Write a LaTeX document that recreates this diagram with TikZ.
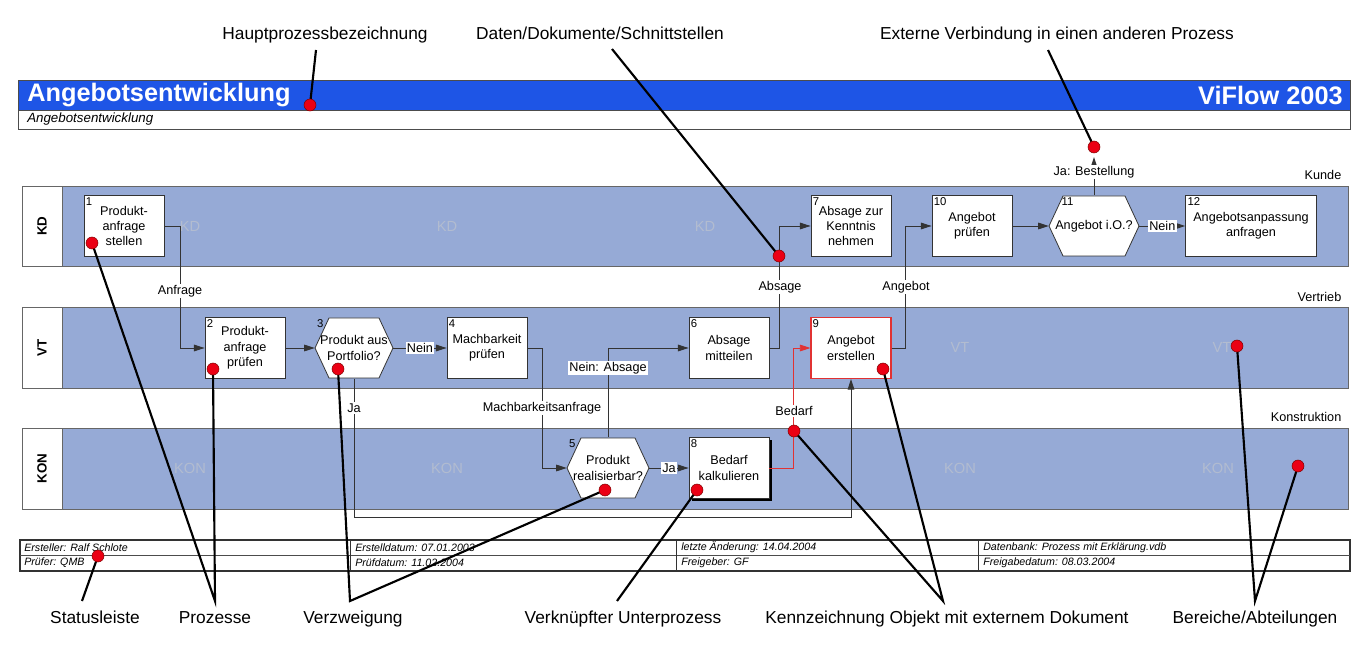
\documentclass[tikz,border=0pt]{standalone}
\usepackage{fontspec}
\setmainfont{Liberation Sans}
\usetikzlibrary{arrows.meta,shadows}
\definecolor{hdrblue}{RGB}{30,85,230}
\definecolor{lanebg}{RGB}{150,170,214}
\definecolor{lanetxt}{RGB}{178,188,208}
\definecolor{dotred}{RGB}{235,0,20}
\definecolor{boxred}{RGB}{225,50,50}
\newcommand{\fsz}[2]{\fontsize{#1}{#2}\selectfont}
\newcommand{\hexoutline}[3]{\draw[hexline] (#1-#3,#2) -- (#1-#3+14,#2-30) -- (#1+#3-14,#2-30) -- (#1+#3,#2) -- (#1+#3-14,#2+30) -- (#1-#3+14,#2+30) -- cycle;}
\begin{document}
\begin{tikzpicture}[x=0.75pt,y=-0.75pt,
  lanebox/.style={draw=black!60, fill=lanebg, line width=0.5pt},
  lanelab/.style={draw=black!60, fill=white, line width=0.5pt},
  proc/.style={draw=black!80, fill=white, line width=0.6pt, minimum width=60pt, minimum height=45.75pt, inner sep=1pt, align=center, font=\fsz{9.5}{11.5}},
  hexn/.style={draw=none, minimum height=45.75pt, inner sep=0pt, align=center, font=\fsz{9.5}{11.5}},
  hexline/.style={draw=black!80, fill=white, line width=0.6pt},
  num/.style={anchor=north west, inner sep=1.5pt, font=\fsz{8.5}{9}},
  cn/.style={draw=black!80, line width=0.7pt},
  arr/.style={cn, -{Triangle[length=8pt,width=5pt]}},
  clab/.style={fill=white, inner sep=1pt, font=\fsz{9.5}{11}},
  ghost/.style={text=lanetxt, font=\fsz{11}{13}},
  lname/.style={anchor=east, font=\fsz{9.5}{11}},
  ann/.style={draw=black, line width=1.6pt},
  dot/.style={circle, fill=dotred, draw=red!50!black, line width=0.4pt, minimum size=9pt, inner sep=0pt},
  annlab/.style={anchor=base, font=\fsz{13}{15}},
  stat/.style={anchor=west, font=\fsz{8}{9}\itshape, inner sep=0pt},
]
\useasboundingbox (0,0) rectangle (1368,652);

% header
\fill[hdrblue] (18,80) rectangle (1350,110);
\draw[black!70, line width=0.6pt] (18,80) rectangle (1350,129);
\draw[black!70, line width=0.6pt] (18,110) -- (1350,110);
\node[anchor=west, text=white, font=\fsz{19}{22}\bfseries, inner sep=0pt] (title) at (27,95) {Angebotsentwicklung};
\node[anchor=east, text=white, font=\fsz{19}{22}\bfseries, inner sep=0pt] (vf) at (1343,95) {ViFlow 2003};
\node[anchor=west, font=\fsz{10}{12}\itshape, inner sep=0pt] (sub) at (27,119.5) {Angebotsentwicklung};

% lanes
\draw[lanebox] (62,186) rectangle (1348,266);
\draw[lanelab] (22,186) rectangle (62,266);
\draw[lanebox] (62,307) rectangle (1348,388);
\draw[lanelab] (22,307) rectangle (62,388);
\draw[lanebox] (62,428) rectangle (1348,509);
\draw[lanelab] (22,428) rectangle (62,509);
\node[rotate=90, font=\fsz{10}{12}\bfseries] (lkd) at (42,226) {KD};
\node[rotate=90, font=\fsz{10}{12}\bfseries] (lvt) at (42,347.5) {VT};
\node[rotate=90, font=\fsz{10}{12}\bfseries] (lkon) at (42,468.5) {KON};
\node[lname] (kunde) at (1346,175) {Kunde};
\node[lname] (vertrieb) at (1346,297) {Vertrieb};
\node[lname] (konstr) at (1346,417) {Konstruktion};

\node[ghost] (g1) at (190,226) {KD};
\node[ghost] (g2) at (447,226) {KD};
\node[ghost] (g3) at (705,226) {KD};
\node[ghost] (g4) at (960,347) {VT};
\node[ghost] (g5) at (1222,347) {VT};
\node[ghost] (g6) at (190,468) {KON};
\node[ghost] (g7) at (447,468) {KON};
\node[ghost] (g8) at (960,468) {KON};
\node[ghost] (g9) at (1218,468) {KON};

% process boxes
\node[proc] (n1) at (124,226) {Produkt-\\anfrage\\stellen};
\node[proc] (n2) at (245,348) {Produkt-\\anfrage\\prüfen};
\node[proc] (n4) at (487,348) {Machbarkeit\\prüfen};
\node[proc] (n6) at (729,348) {Absage\\mitteilen};
\node[proc, draw=boxred, line width=0.8pt] (n9) at (851,348) {Angebot\\erstellen};
\node[proc] (n7) at (851,226) {Absage zur\\Kenntnis\\nehmen};
\node[proc] (n10) at (972,226) {Angebot\\prüfen};
\node[proc, minimum width=98pt] (n12) at (1251,226) {Angebotsanpassung\\anfragen};
\node[proc, drop shadow={shadow xshift=2pt, shadow yshift=-2pt, fill=black, opacity=1}] (n8) at (729,468) {Bedarf\\kalkulieren};

% decision hexagons
\hexoutline{354}{348}{39}
\node[hexn, minimum width=58.5pt] (n3) at (354,348) {Produkt aus\\Portfolio?};
\hexoutline{608}{468}{41}
\node[hexn, minimum width=61.5pt] (n5) at (608,468) {Produkt\\realisierbar?};
\hexoutline{1094}{226}{45}
\node[hexn, minimum width=67.5pt] (n11) at (1094,226) {Angebot i.O.?};

% numbers
\node[num] (k1) at (n1.north west) {1};
\node[num] (k2) at (n2.north west) {2};
\node[num] (k3) at (n3.north west) {3};
\node[num] (k4) at (n4.north west) {4};
\node[num] (k5) at (n5.north west) {5};
\node[num] (k6) at (n6.north west) {6};
\node[num] (k7) at (n7.north west) {7};
\node[num] (k8) at (n8.north west) {8};
\node[num] (k9) at (n9.north west) {9};
\node[num] (k10) at (n10.north west) {10};
\node[num] (k11) at ([xshift=8pt]n11.north west) {11};
\node[num] (k12) at (n12.north west) {12};

% connectors
\coordinate (ext) at (1094,157);
\draw[arr] (n1.east) -- ++(16,0) |- (n2.west);
\draw[arr] (n2.east) -- (n3.west);
\draw[arr] (n3.east) -- node[clab] (lnein1) {Nein} (n4.west);
\draw[arr] (n3.south) -- ++(0,139) -| (n9.south);
\draw[arr] (n4.east) -- ++(15,0) |- (n5.west);
\draw[arr] (n5.north) |- (n6.west);
\draw[arr] (n5.east) -- node[clab] (lja2) {Ja} (n8.west);
\draw[arr] (n6.east) -- ++(10,0) |- (n7.west);
\draw[arr, draw=boxred] (n8.east) -- ++(24,0) |- (n9.west);
\draw[arr] (n9.east) -- ++(14,0) |- (n10.west);
\draw[arr] (n10.east) -- (n11.west);
\draw[arr] (n11.east) -- node[clab] (lnein2) {Nein} (n12.west);
\draw[arr] (n11.north) -- (ext);

\node[clab] (lanf) at (180,291) {Anfrage};
\node[clab] (lja1) at (354,408) {Ja};
\node[clab] (lmach) at (542,408) {Machbarkeitsanfrage};
\node[clab] (lnabs) at (608,368) {Nein: Absage};
\node[clab] (labs) at (780,287) {Absage};
\node[clab] (lbed) at (794,411) {Bedarf};
\node[clab] (lang) at (906,287) {Angebot};
\node[clab] (lbest) at (1094,172) {Ja: Bestellung};

% status bar
\draw[black!80, line width=0.9pt] (20,540) rectangle (1350,571);
\draw[black!70, line width=0.5pt] (20,555.5) -- (1350,555.5);
\draw[black!80, line width=0.6pt] (350,540) -- (350,571) (676,540) -- (676,571) (978,540) -- (978,571);
\node[stat] (s1) at (24,547.5) {Ersteller: Ralf Schlote};
\node[stat] (s2) at (355,547.5) {Erstelldatum: 07.01.2003};
\node[stat] (s3) at (681,547.5) {letzte Änderung: 14.04.2004};
\node[stat] (s4) at (983,547.5) {Datenbank: Prozess mit Erklärung.vdb};
\node[stat] (s5) at (24,563) {Prüfer: QMB};
\node[stat] (s6) at (355,563) {Prüfdatum: 11.02.2004};
\node[stat] (s7) at (681,563) {Freigeber: GF};
\node[stat] (s8) at (983,563) {Freigabedatum: 08.03.2004};

% annotation labels
\node[annlab] (tH) at (325,40) {Hauptprozessbezeichnung};
\node[annlab] (tD) at (600,40) {Daten/Dokumente/Schnittstellen};
\node[annlab] (tE) at (1057,40) {Externe Verbindung in einen anderen Prozess};
\node[annlab] (tS) at (95,623) {Statusleiste};
\node[annlab] (tP) at (215,623) {Prozesse};
\node[annlab] (tV) at (353,623) {Verzweigung};
\node[annlab] (tU) at (623,623) {Verknüpfter Unterprozess};
\node[annlab] (tK) at (947,623) {Kennzeichnung Objekt mit externem Dokument};
\node[annlab] (tB) at (1255,623) {Bereiche/Abteilungen};

% annotation endpoints
\coordinate (aH) at (316,50);
\coordinate (aD) at (612,49);
\coordinate (aE) at (1048,50);
\coordinate (aS) at (82,601);
\coordinate (aP) at (215,601);
\coordinate (aV) at (350,601);
\coordinate (aU) at (617,601);
\coordinate (aK) at (943,601);
\coordinate (aB) at (1255,601);
\coordinate (pH) at (310,105);
\coordinate (pD) at (779,256);
\coordinate (pE) at (1094,147);
\coordinate (pP1) at (92,243);
\coordinate (pP2) at (213,369);
\coordinate (pV1) at (338,369);
\coordinate (pV2) at (605,490);
\coordinate (pS) at (98,556);
\coordinate (pU) at (697,490);
\coordinate (pK1) at (794,431);
\coordinate (pK2) at (883,369);
\coordinate (pB1) at (1237,346);
\coordinate (pB2) at (1298,466);

\draw[ann] (aH) -- (pH);
\draw[ann] (aD) -- (pD);
\draw[ann] (aE) -- (pE);
\draw[ann] (aS) -- (pS);
\draw[ann] (pP1) -- (aP) -- (pP2);
\draw[ann] (pV1) -- (aV) -- (pV2);
\draw[ann] (aU) -- (pU);
\draw[ann] (pK1) -- (aK) -- (pK2);
\draw[ann] (pB1) -- (aB) -- (pB2);

\foreach \p in {pH,pD,pE,pP1,pP2,pV1,pV2,pS,pU,pK1,pK2,pB1,pB2}
  \node[dot] (d\p) at (\p) {};
\end{tikzpicture}
\end{document}
